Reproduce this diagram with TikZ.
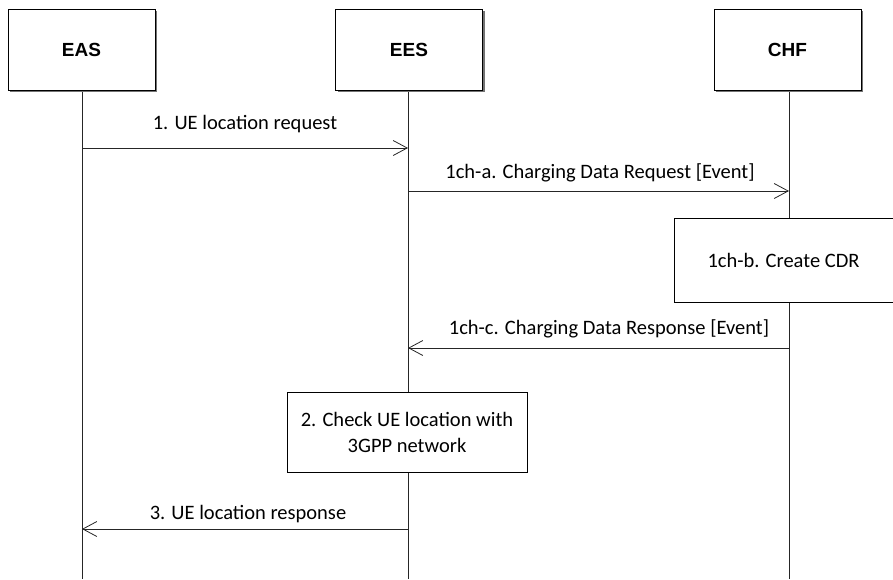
\documentclass[tikz,border=0pt]{standalone}
\usepackage{fontspec}
\setmainfont{Carlito}
\newfontfamily\hdrfont{Liberation Sans}
\usetikzlibrary{arrows.meta,shadows}
\begin{document}
\begin{tikzpicture}[x=1pt,y=-1pt,
  actor/.style={draw=black,line width=0.8pt,fill=white,minimum width=147pt,minimum height=81pt,inner sep=0pt,
    font=\hdrfont\bfseries\fontsize{19}{22}\selectfont,
    drop shadow={shadow xshift=2pt,shadow yshift=-2pt,fill=black!55,opacity=1}},
  procbox/.style={draw=black,line width=0.8pt,fill=white,inner sep=0pt,align=center,
    font=\fontsize{20.5}{26}\selectfont},
  lifeline/.style={line width=0.8pt,black!85},
  msg/.style={line width=0.8pt,black!85,-{Straight Barb[length=14pt,width=15pt,line width=0.8pt]}},
  lbl/.style={font=\fontsize{20.5}{24}\selectfont,inner sep=0pt}]
\useasboundingbox (0,0) rectangle (893,579);
% lifelines
\coordinate (easb) at (82,579);
\coordinate (eesb) at (408,579);
\coordinate (chfb) at (789,579);
\draw[lifeline] (82,90) -- (easb);
\draw[lifeline] (408,90) -- (eesb);
\draw[lifeline] (789,90) -- (chfb);
% actors
\node[actor] (eas) at (81.5,49.5) {EAS};
\node[actor] (ees) at (409,49.5) {EES};
\node[actor] (chf) at (787.5,49.5) {CHF};
% process boxes
\node[procbox,minimum width=219pt,minimum height=84pt] (cdr) at (783.5,260) {1ch-b. Create CDR};
\node[procbox,minimum width=240pt,minimum height=80pt] (chk) at (407,432) {2. Check UE location with\\3GPP network};
% message anchor points
\coordinate (m1s) at (82,148); \coordinate (m1e) at (408,148);
\coordinate (m2s) at (408,191); \coordinate (m2e) at (789,191);
\coordinate (m3s) at (789,348); \coordinate (m3e) at (408,348);
\coordinate (m4s) at (408,529); \coordinate (m4e) at (82,529);
\draw[msg] (m1s) -- (m1e);
\draw[msg] (m2s) -- (m2e);
\draw[msg] (m3s) -- (m3e);
\draw[msg] (m4s) -- (m4e);
% labels
\node[lbl] (l1) at (245,124) {1. UE location request};
\node[lbl] (l2) at (600,173) {1ch-a. Charging Data Request [Event]};
\node[lbl] (l3) at (609,329) {1ch-c. Charging Data Response [Event]};
\node[lbl] (l4) at (248,514) {3. UE location response};
\end{tikzpicture}
\end{document}
